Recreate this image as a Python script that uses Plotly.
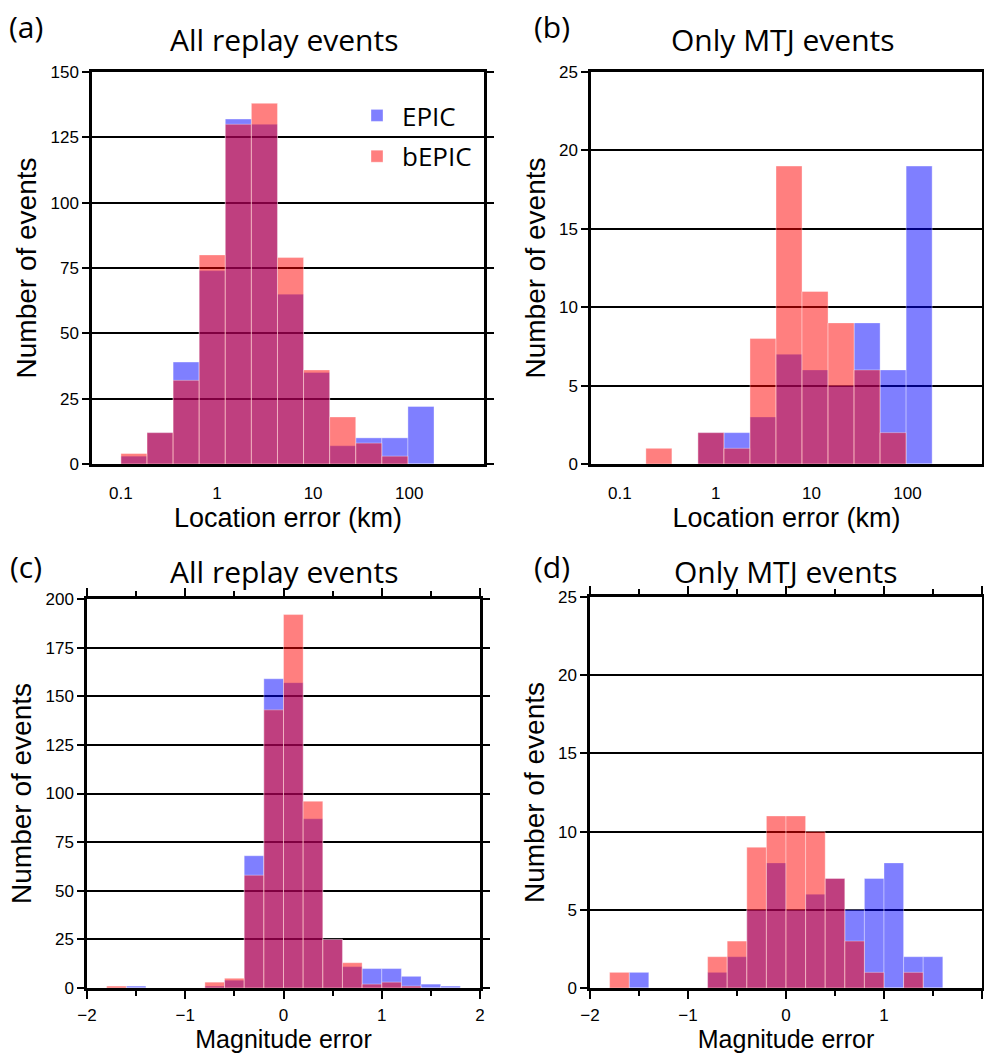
import numpy as np
import plotly.graph_objects as go

# ---------------- data ----------------
# Location-error histograms: log10-spaced bins starting at 0.1 km
loc_bin_start_log10 = -1.0
loc_bin_width_log10 = 0.2715
loc_epic_all = [3, 12, 39, 74, 132, 130, 65, 35, 7, 10, 10, 22, 0, 0]
loc_bepic_all = [4, 12, 32, 80, 130, 138, 79, 36, 18, 8, 3, 0, 0, 0]
loc_epic_mtj = [0, 0, 0, 2, 2, 3, 7, 6, 5, 9, 6, 19, 0, 0]
loc_bepic_mtj = [0, 1, 0, 2, 1, 8, 19, 11, 9, 6, 2, 0, 0, 0]
loc_tick_vals_km = [0.1, 1, 10, 100]
loc_tick_text = ["0.1", "1", "10", "100"]

# Magnitude-error histograms: bins of 0.2 from -2 to 2
mag_bin_start = -2.0
mag_bin_width = 0.2
mag_epic_all = [0, 0, 1, 0, 0, 0, 1, 4, 68, 159, 157, 87, 25, 11, 10, 10, 6, 2, 1, 0]
mag_bepic_all = [0, 1, 0, 0, 0, 0, 3, 5, 58, 143, 192, 96, 25, 13, 2, 3, 1, 0, 0, 0]
mag_epic_mtj = [0, 0, 1, 0, 0, 0, 1, 2, 5, 8, 5, 6, 7, 5, 7, 8, 2, 2, 0, 0]
mag_bepic_mtj = [0, 1, 0, 0, 0, 0, 2, 3, 9, 11, 11, 10, 7, 3, 1, 0, 1, 0, 0, 0]

series_names = ["EPIC", "bEPIC"]
panel_titles = ["All replay events", "Only MTJ events", "All replay events", "Only MTJ events"]
panel_labels = ["(a)", "(b)", "(c)", "(d)"]

# ---------------- styles ----------------
W, H = 984, 1055
BLUE = "rgba(0,0,255,0.5)"
RED = "rgba(255,0,0,0.5)"
EDGE = "rgba(255,255,255,0.35)"
TICK_FONT = dict(family="Liberation Sans, Arial, sans-serif", size=17, color="black")
XT_FONT = dict(family="Liberation Sans, Arial, sans-serif", size=27, color="black")
XT_FONT_MAG = dict(family="Liberation Sans, Arial, sans-serif", size=25, color="black")
YT_FONT = dict(family="Liberation Sans, Arial, sans-serif", size=28, color="black")
TITLE_FONT = dict(family="Open Sans, sans-serif", size=30, color="black")

def px_x(p):
    return p / W

def px_y(p):
    return 1 - p / H

# panel frames in pixels (left, right, top, bottom)
frames = [(92, 484, 72, 464), (591, 982, 72, 464), (87, 480, 599, 988), (590, 982, 597, 988)]

fig = go.Figure()

loc_centers = [loc_bin_start_log10 + (i + 0.5) * loc_bin_width_log10 for i in range(len(loc_epic_all))]
mag_centers = [mag_bin_start + (i + 0.5) * mag_bin_width for i in range(len(mag_epic_all))]

panels = [
    (loc_centers, loc_bin_width_log10, loc_epic_all, loc_bepic_all),
    (loc_centers, loc_bin_width_log10, loc_epic_mtj, loc_bepic_mtj),
    (mag_centers, mag_bin_width, mag_epic_all, mag_bepic_all),
    (mag_centers, mag_bin_width, mag_epic_mtj, mag_bepic_mtj),
]

for k, (xc, w, e, b) in enumerate(panels):
    ax = "" if k == 0 else str(k + 1)
    for name, vals, col in [(series_names[0], e, BLUE), (series_names[1], b, RED)]:
        fig.add_trace(go.Bar(
            x=xc, y=vals, width=w, name=name, legendgroup=name,
            marker=dict(color=col, line=dict(color=EDGE, width=1)),
            xaxis="x" + ax, yaxis="y" + ax,
            showlegend=(k == 0),
        ))

common_axis = dict(
    showline=True, linewidth=2.5, linecolor="black", mirror="ticks",
    ticks="outside", tickwidth=1.5, tickcolor="black", tickfont=TICK_FONT,
    zeroline=False, automargin=False,
)

layout = dict(
    width=W, height=H, autosize=False,
    margin=dict(l=0, r=0, t=0, b=0, autoexpand=False),
    paper_bgcolor="white", plot_bgcolor="white",
    barmode="overlay",
    legend=dict(
        x=px_x(352), y=px_y(92), xanchor="left", yanchor="top",
        font=dict(family="Open Sans, sans-serif", size=26, color="black"),
        bgcolor="rgba(0,0,0,0)", itemwidth=40, tracegroupgap=4,
    ),
)

log_range = [np.log10(0.05), np.log10(600)]
y_ranges = [[0, 150], [0, 25], [0, 200], [0, 25]]
y_dticks = [25, 5, 25, 5]
for k, (l, r, t, bt) in enumerate(frames):
    ax = "" if k == 0 else str(k + 1)
    xa = dict(common_axis, domain=[px_x(l), px_x(r)], anchor="y" + ax, showgrid=False,
              ticklen=8, ticklabelstandoff=2)
    if k < 2:
        # bottom axis: labels only (no tick marks); tick marks drawn on a top overlay axis
        xa.update(range=log_range, ticks="", mirror=True, ticklabelstandoff=12,
                  tickvals=list(np.log10(loc_tick_vals_km)), ticktext=loc_tick_text,
                  title=dict(text="Location error (km)", standoff=4, font=XT_FONT))
        top_name = "xaxis" + str(5 + k)
        layout[top_name] = dict(
            overlaying="x" + ax, side="top", anchor="y" + ax, range=log_range,
            tickvals=list(np.log10(loc_tick_vals_km)), showticklabels=False,
            ticks="outside", ticklen=8, tickwidth=1.5, tickcolor="black",
            showline=False, showgrid=False, zeroline=False, automargin=False,
        )
    else:
        xa.update(range=[-2, 2], dtick=1, tick0=0,
                  minor=dict(dtick=0.5, ticks="outside", ticklen=5, tickwidth=1.5, tickcolor="black"),
                  title=dict(text="Magnitude error", standoff=6, font=XT_FONT_MAG))
    ya = dict(common_axis, domain=[px_y(bt), px_y(t)], anchor="x" + ax,
              range=y_ranges[k], dtick=y_dticks[k], ticklen=7,
              showgrid=True, gridcolor="black", gridwidth=1.6,
              title=dict(text="Number of events", standoff=6, font=YT_FONT))
    layout["xaxis" + ax] = xa
    layout["yaxis" + ax] = ya

annotations = []
title_pos = [(284, 40), (783, 40), (284, 571), (786, 571)]
label_pos = [(26, 26), (552, 26), (26, 566), (552, 566)]
for k in range(4):
    annotations.append(dict(text=panel_titles[k], x=px_x(title_pos[k][0]), y=px_y(title_pos[k][1]),
                            xref="paper", yref="paper", showarrow=False,
                            xanchor="center", yanchor="middle", font=TITLE_FONT))
    annotations.append(dict(text=panel_labels[k], x=px_x(label_pos[k][0]), y=px_y(label_pos[k][1]),
                            xref="paper", yref="paper", showarrow=False,
                            xanchor="center", yanchor="middle", font=TITLE_FONT))
layout["annotations"] = annotations

fig.update_layout(**layout)
fig.write_html("out.html", config={"displayModeBar": False},
               post_script="document.body.style.margin='0';document.body.style.overflow='hidden';")
